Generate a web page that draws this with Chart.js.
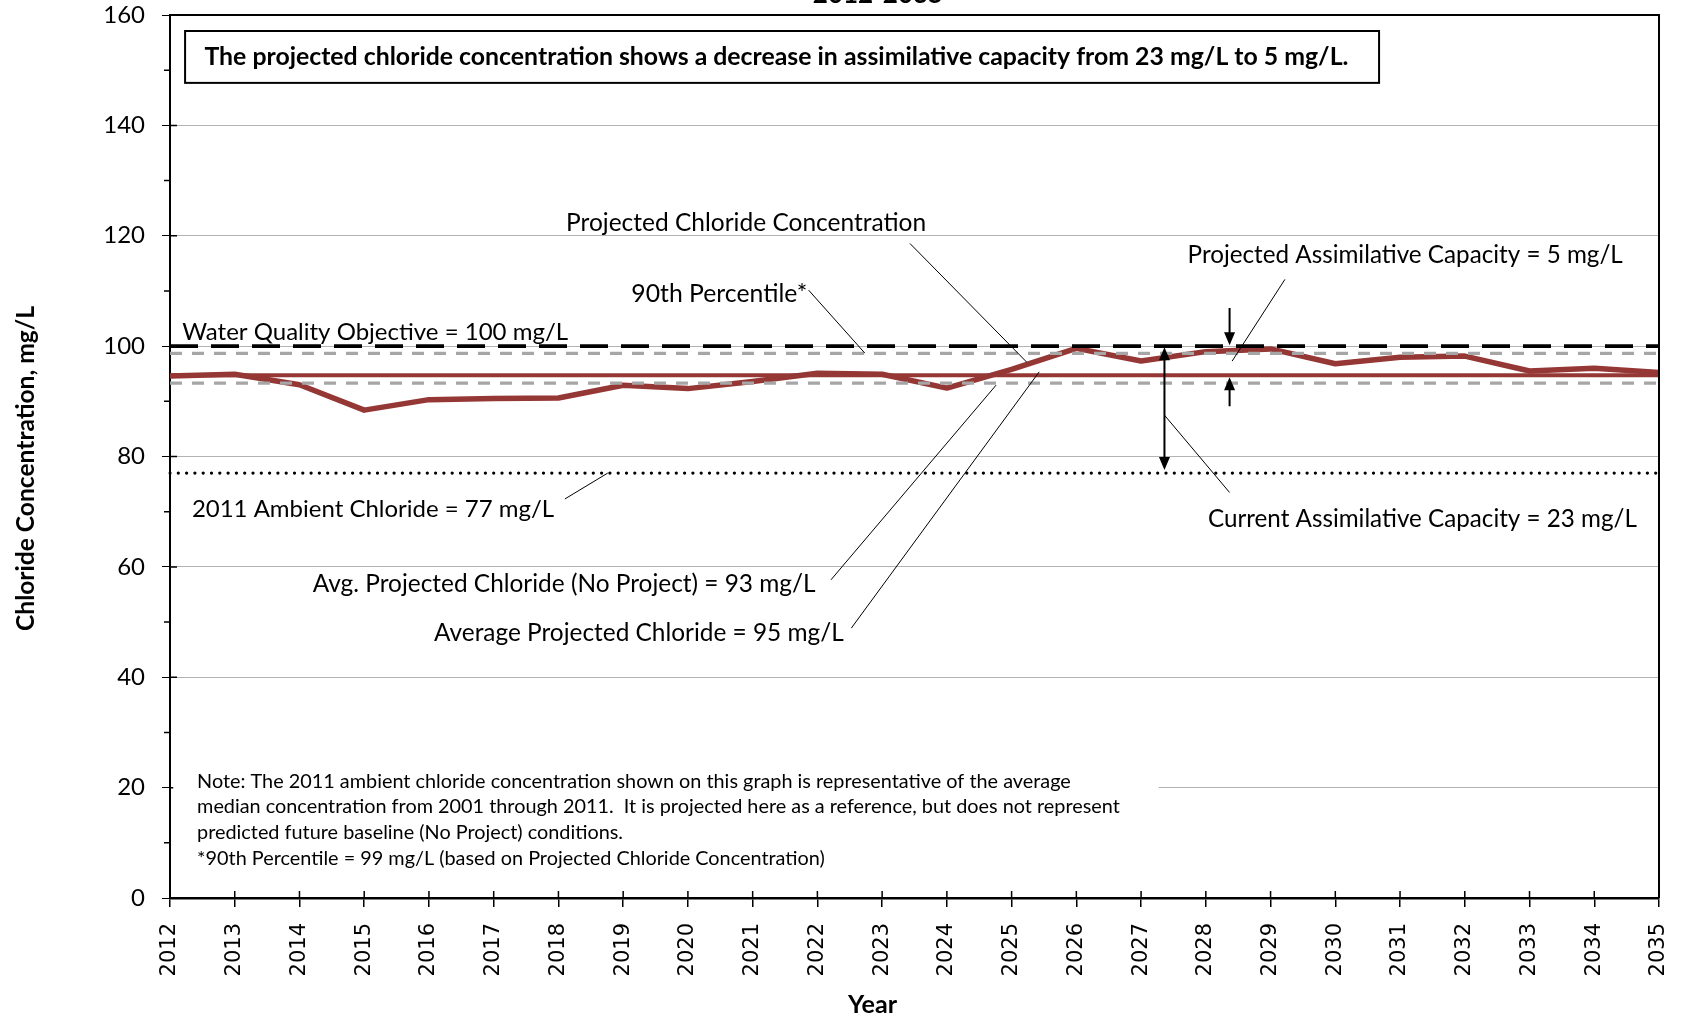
<!DOCTYPE html>
<html>
<head>
<meta charset="utf-8">
<script src="https://cdn.jsdelivr.net/npm/chart.js@4.4.1/dist/chart.umd.min.js"></script>
<style>
  body { margin: 0; background: #fff; }
  #wrap { width: 1683px; height: 1019px; }
</style>
</head>
<body>
<div id="wrap"><canvas id="chart" width="1683" height="1019"></canvas></div>
<script>
// chart data
const years = ['2012', '2013', '2014', '2015', '2016', '2017', '2018', '2019', '2020', '2021', '2022', '2023',
  '2024', '2025', '2026', '2027', '2028', '2029', '2030', '2031', '2032', '2033', '2034', '2035'];
const projected = [94.6, 94.9, 93.0, 88.4, 90.3, 90.5, 90.6, 92.9, 92.3, 93.6, 95.1, 94.9,
  92.4, 95.8, 99.6, 97.3, 99.0, 99.5, 96.8, 98.0, 98.2, 95.5, 96.0, 95.2];
const waterQualityObjective = 100;
const percentile90 = 98.7;
const avgProjected = 94.7;
const avgNoProject = 93.3;
const ambient2011 = 77;
const yTicks = [0, 20, 40, 60, 80, 100, 120, 140, 160];

const RED = '#953735';
const GREY = '#a6a6a6';

// two-point horizontal line across the whole year range
const flat = v => [{ x: years[0], y: v }, { x: years[years.length - 1], y: v }];

// annotation texts: left/right ends in year-index units, baseline in mg/L
const labels = [
  { text: 'Projected Chloride Concentration', i0: 6.117, i1: 11.682, v: 120.9 },
  { text: '90th Percentile*', i0: 7.126, i1: 9.843, v: 108.0 },
  { text: 'Water Quality Objective = 100 mg/L', i0: 0.19, i1: 6.154, v: 101.1 },
  { text: '2011 Ambient Chloride = 77 mg/L', i0: 0.338, i1: 5.934, v: 69.1 },
  { text: 'Avg. Projected Chloride (No Project) = 93 mg/L', i0: 2.205, i1: 9.978, v: 55.5 },
  { text: 'Average Projected Chloride = 95 mg/L', i0: 4.078, i1: 10.409, v: 46.6 },
  { text: 'Projected Assimilative Capacity = 5 mg/L', i0: 15.718, i1: 22.444, v: 115.0 },
  { text: 'Current Assimilative Capacity = 23 mg/L', i0: 16.033, i1: 22.661, v: 67.25 }
];
const leaders = [
  [11.43, 118.6, 13.233, 97.1],
  [9.864, 110.15, 10.733, 98.73],
  [6.099, 72.3, 6.762, 77.0],
  [10.21, 57.66, 12.76, 92.93],
  [10.524, 48.9, 13.426, 95.34],
  [17.222, 112.09, 16.406, 97.28],
  [16.367, 73.48, 15.361, 87.49]
];
const noteLines = [
  'Note: The 2011 ambient chloride concentration shown on this graph is representative of the average',
  'median concentration from 2001 through 2011.  It is projected here as a reference, but does not represent',
  'predicted future baseline (No Project) conditions.',
  '*90th Percentile = 99 mg/L (based on Projected Chloride Concentration)'
];
const noteBaselines = [19.94, 15.41, 10.69, 6.05];
const summary = 'The projected chloride concentration shows a decrease in assimilative capacity from 23 mg/L to 5 mg/L.';

function fitFont(ctx, text, width, weight) {
  ctx.font = weight + ' 20px Lato';
  const size = 20 * width / ctx.measureText(text).width;
  ctx.font = weight + ' ' + size.toFixed(2) + 'px Lato';
}

function arrowHead(ctx, x, y, dir) {
  ctx.beginPath();
  ctx.moveTo(x, y);
  ctx.lineTo(x - 5.5, y - dir * 13);
  ctx.lineTo(x + 5.5, y - dir * 13);
  ctx.closePath();
  ctx.fill();
}

const decor = {
  id: 'decor',
  afterDatasetsDraw(chart) {
    const { ctx, chartArea: a, scales: { x: xs, y: ys } } = chart;
    const X = i => xs.getPixelForValue(i);
    const Y = v => ys.getPixelForValue(v);
    ctx.save();

    // top / right frame
    ctx.strokeStyle = '#000';
    ctx.lineWidth = 2;
    ctx.beginPath();
    ctx.moveTo(a.left, a.top);
    ctx.lineTo(a.right, a.top);
    ctx.lineTo(a.right, a.bottom);
    ctx.stroke();

    // ticks crossing the axes, minor y ticks
    ctx.lineWidth = 1.5;
    ctx.beginPath();
    yTicks.forEach(v => { ctx.moveTo(a.left, Y(v)); ctx.lineTo(a.left + 7, Y(v)); });
    for (let v = 10; v < 160; v += 20) { ctx.moveTo(a.left - 6, Y(v)); ctx.lineTo(a.left, Y(v)); }
    years.forEach((_, i) => { ctx.moveTo(X(i), a.bottom); ctx.lineTo(X(i), a.bottom - 7); });
    ctx.stroke();

    // summary box
    ctx.fillStyle = '#fff';
    ctx.fillRect(X(0.233), Y(157.1), X(18.676) - X(0.233), Y(147.7) - Y(157.1));
    ctx.lineWidth = 2;
    ctx.strokeRect(X(0.233), Y(157.1), X(18.676) - X(0.233), Y(147.7) - Y(157.1));
    ctx.fillStyle = '#000';
    ctx.textBaseline = 'alphabetic';
    ctx.textAlign = 'left';
    fitFont(ctx, summary, X(18.213) - X(0.532), 'bold');
    ctx.fillText(summary, X(0.532), Y(151.0));

    // note block (white ground hides the 20 grid line)
    ctx.fillStyle = '#fff';
    ctx.fillRect(X(0.05), Y(23.5), X(15.271) - X(0.05), Y(3.5) - Y(23.5));
    ctx.fillStyle = '#000';
    fitFont(ctx, noteLines[1], X(14.676) - X(0.418), 'normal');
    noteLines.forEach((t, k) => ctx.fillText(t, X(0.418), Y(noteBaselines[k])));

    // labels
    labels.forEach(t => {
      fitFont(ctx, t.text, X(t.i1) - X(t.i0), 'normal');
      ctx.fillText(t.text, X(t.i0), Y(t.v));
    });

    // leader lines
    ctx.lineWidth = 1;
    ctx.beginPath();
    leaders.forEach(([i0, v0, i1, v1]) => { ctx.moveTo(X(i0), Y(v0)); ctx.lineTo(X(i1), Y(v1)); });
    ctx.stroke();

    // assimilative capacity arrows
    ctx.lineWidth = 2;
    const xs1 = X(16.367), xs2 = X(15.361);
    ctx.beginPath();
    ctx.moveTo(xs1, Y(106.9)); ctx.lineTo(xs1, Y(waterQualityObjective) - 10);
    ctx.moveTo(xs1, Y(89.1)); ctx.lineTo(xs1, Y(avgProjected) + 10);
    ctx.moveTo(xs2, Y(waterQualityObjective) + 10); ctx.lineTo(xs2, Y(ambient2011) - 10);
    ctx.stroke();
    arrowHead(ctx, xs1, Y(waterQualityObjective) - 1, 1);
    arrowHead(ctx, xs1, Y(avgProjected) + 2, -1);
    arrowHead(ctx, xs2, Y(waterQualityObjective) + 1, -1);
    arrowHead(ctx, xs2, Y(ambient2011) - 3, 1);

    // chart title (mostly cut off at top), axis titles
    ctx.textAlign = 'center';
    ctx.font = 'bold 26px Lato';
    ctx.fillText('2012-2035', 878, 3);
    ctx.textBaseline = 'middle';
    fitFont(ctx, 'Year', 49, 'bold');
    ctx.fillText('Year', 872.6, 1004.6);
    ctx.translate(26, 468.5);
    ctx.rotate(-Math.PI / 2);
    fitFont(ctx, 'Chloride Concentration, mg/L', 325, 'bold');
    ctx.fillText('Chloride Concentration, mg/L', 0, 0);
    ctx.restore();
  }
};

new Chart(document.getElementById('chart').getContext('2d'), {
  type: 'line',
  data: {
    labels: years,
    datasets: [
      { label: 'Water Quality Objective', data: flat(waterQualityObjective), borderColor: '#000', borderWidth: 3.8, borderDash: [28, 13] },
      { label: '90th Percentile', data: flat(percentile90), borderColor: GREY, borderWidth: 3.3, borderDash: [12, 10] },
      { label: 'Avg. Projected Chloride (No Project)', data: flat(avgNoProject), borderColor: GREY, borderWidth: 3.3, borderDash: [12, 10] },
      { label: '2011 Ambient Chloride', data: flat(ambient2011), borderColor: '#000', borderWidth: 3.3, borderDash: [0, 8.3], borderCapStyle: 'round' },
      { label: 'Average Projected Chloride', data: flat(avgProjected), borderColor: RED, borderWidth: 4 },
      { label: 'Projected Chloride Concentration', data: projected, borderColor: RED, borderWidth: 5.5, borderJoinStyle: 'round' }
    ]
  },
  options: {
    responsive: false,
    animation: false,
    events: [],
    elements: { point: { radius: 0 }, line: { tension: 0 } },
    layout: { padding: { top: 15, right: 24, left: 0, bottom: 0 } },
    plugins: { legend: { display: false }, tooltip: { enabled: false } },
    scales: {
      x: {
        offset: false,
        grid: { drawOnChartArea: false, tickLength: 9, tickColor: '#000', lineWidth: 1.5 },
        border: { color: '#000', width: 2.5 },
        ticks: { minRotation: 90, maxRotation: 90, autoSkip: false, padding: 16, color: '#000',
          font: { family: 'DejaVu Sans', size: 21 } },
        afterFit: s => { s.height = 121; s.paddingLeft = 0; s.paddingRight = 0; }
      },
      y: {
        min: 0,
        max: 160,
        afterBuildTicks: s => { s.ticks = yTicks.map(v => ({ value: v })); },
        grid: {
          color: c => (c.tick.value === 0 || c.tick.value === 160) ? 'rgba(0,0,0,0)' : '#b3b3b3',
          tickColor: '#000', tickLength: 8, lineWidth: 1
        },
        border: { color: '#000', width: 2 },
        ticks: { padding: 17, color: '#000', font: { family: 'Lato', size: 24 } },
        afterFit: s => { s.width = 170; s.paddingTop = 0; s.paddingBottom = 0; }
      }
    }
  },
  plugins: [decor]
});
</script>
</body>
</html>
